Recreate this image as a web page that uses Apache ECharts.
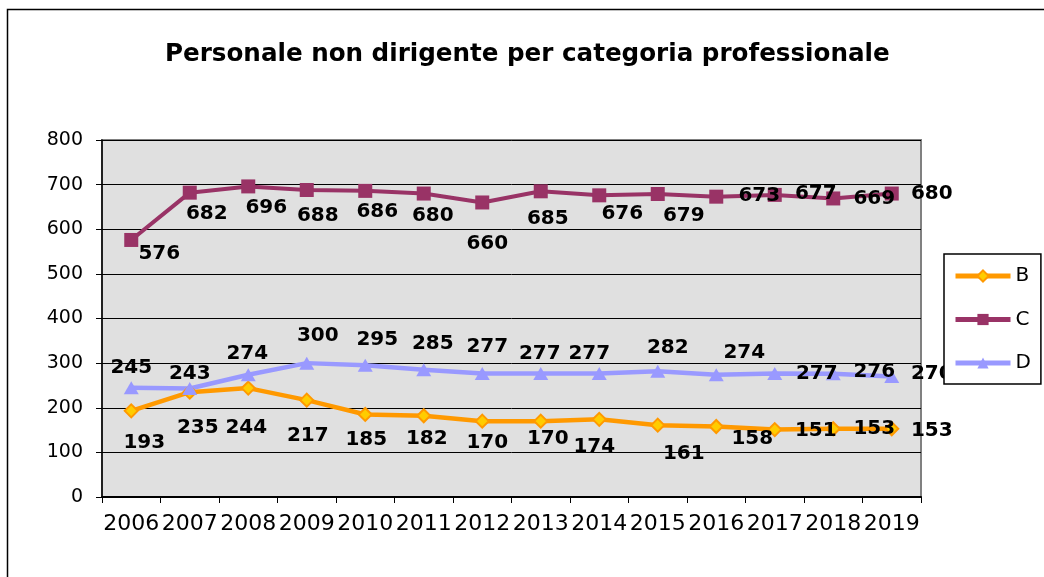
<!DOCTYPE html>
<html>
<head>
<meta charset="utf-8">
<title>Personale non dirigente per categoria professionale</title>
<script src="https://cdn.jsdelivr.net/npm/echarts@6/dist/echarts.min.js"></script>
<style>
  html, body { margin: 0; padding: 0; background: #fff; }
  #chart { width: 1044px; height: 577px; }
</style>
</head>
<body>
<div id="chart"></div>
<script>
// anni
var years = ['2006', '2007', '2008', '2009', '2010', '2011', '2012', '2013', '2014', '2015', '2016', '2017', '2018', '2019'];
// serie
var valuesB = [193, 235, 244, 217, 185, 182, 170, 170, 174, 161, 158, 151, 153, 153];
var valuesC = [576, 682, 696, 688, 686, 680, 660, 685, 676, 679, 673, 677, 669, 680];
var valuesD = [245, 243, 274, 300, 295, 285, 277, 277, 277, 282, 274, 277, 276, 270];
var yTicks = [0, 100, 200, 300, 400, 500, 600, 700, 800];

// spostamento delle etichette rispetto al punto (come nel grafico Excel)
var shiftB = [[13, 32], [8, 36], [-2, 40], [1, 36], [1, 25], [3, 23], [5, 22], [7, 18], [-5, 27], [26, 29], [36, 12], [41, 1], [41, 0], [40, 2]];
var shiftC = [[28, 14], [17, 21], [18, 21], [11, 26], [12, 21], [9, 22], [5, 41], [7, 27], [23, 18], [26, 22], [43, -1], [41, -1], [41, 0], [40, 0]];
var shiftD = [[0, -20], [0, -15], [-1, -21], [11, -27], [12, -26], [9, -26], [5, -27], [-1, -20], [-10, -20], [10, -23], [28, -22], [42, 0], [41, -2], [40, -3]];

function withLabels(values, shifts) {
	return values.map(function (v, i) {
		return { value: v, label: { offset: shifts[i] } };
	});
}

var labelStyle = {
	show: true,
	position: 'inside',
	color: '#000',
	fontFamily: 'DejaVu Sans',
	fontWeight: 'bold',
	fontSize: 20
};

var myChart = echarts.init(document.getElementById('chart'), null, { renderer: 'canvas' });
var option = {
	animation: false,
	backgroundColor: '#fff',
	graphic: [{
		type: 'rect',
		z: 0,
		silent: true,
		shape: { x: 7.5, y: 9.5, width: 1200, height: 800 },
		style: { fill: 'none', stroke: '#000', lineWidth: 1.5 }
	}],
	title: {
		text: 'Personale non dirigente per categoria professionale',
		left: 160,
		top: 37,
		textStyle: {
			color: '#000',
			fontFamily: 'DejaVu Sans',
			fontWeight: 'bold',
			fontSize: 24.6
		}
	},
	legend: {
		orient: 'vertical',
		left: 944,
		top: 254,
		z: 10,
		padding: [12, 10, 11, 9],
		itemWidth: 55,
		itemHeight: 14,
		itemGap: 23.5,
		backgroundColor: '#fff',
		borderColor: '#000',
		borderWidth: 1.5,
		borderRadius: 0,
		lineStyle: { width: 5 },
		data: ['B', 'C', 'D'],
		textStyle: {
			color: '#000',
			fontFamily: 'DejaVu Sans',
			fontSize: 20
		}
	},
	grid: {
		left: 102,
		right: 123,
		top: 140,
		bottom: 80,
		show: true,
		backgroundColor: '#e0e0e0',
		borderColor: '#808080',
		borderWidth: 2
	},
	xAxis: {
		type: 'category',
		data: years,
		boundaryGap: true,
		axisLine: { lineStyle: { color: '#000', width: 2 } },
		axisTick: { show: true, length: 6, alignWithLabel: false, lineStyle: { color: '#000', width: 1 } },
		axisLabel: {
			interval: 0,
			margin: 16,
			color: '#000',
			fontFamily: 'DejaVu Sans',
			fontSize: 22
		}
	},
	yAxis: {
		type: 'value',
		min: yTicks[0],
		max: yTicks[yTicks.length - 1],
		interval: 100,
		axisLine: { show: true, lineStyle: { color: '#000', width: 1.5 } },
		axisTick: { show: true, length: 6, lineStyle: { color: '#000', width: 1 } },
		axisLabel: {
			margin: 19,
			color: '#000',
			fontFamily: 'DejaVu Sans',
			fontSize: 19
		},
		splitLine: { show: true, lineStyle: { color: '#000', width: 1 } }
	},
	series: [
		{
			name: 'B',
			type: 'line',
			data: withLabels(valuesB, shiftB),
			symbol: 'diamond',
			symbolSize: 13,
			lineStyle: { color: '#ff9900', width: 4.5 },
			itemStyle: { color: '#ffcc00', borderColor: '#ff9900', borderWidth: 2 },
			label: labelStyle
		},
		{
			name: 'C',
			type: 'line',
			data: withLabels(valuesC, shiftC),
			symbol: 'rect',
			symbolSize: 14,
			lineStyle: { color: '#993366', width: 4 },
			itemStyle: { color: '#993366' },
			label: labelStyle
		},
		{
			name: 'D',
			type: 'line',
			data: withLabels(valuesD, shiftD),
			symbol: 'triangle',
			symbolSize: [15, 13],
			lineStyle: { color: '#9999ff', width: 4.5 },
			itemStyle: { color: '#9999ff' },
			label: labelStyle
		}
	]
};
myChart.setOption(option);
</script>
</body>
</html>
